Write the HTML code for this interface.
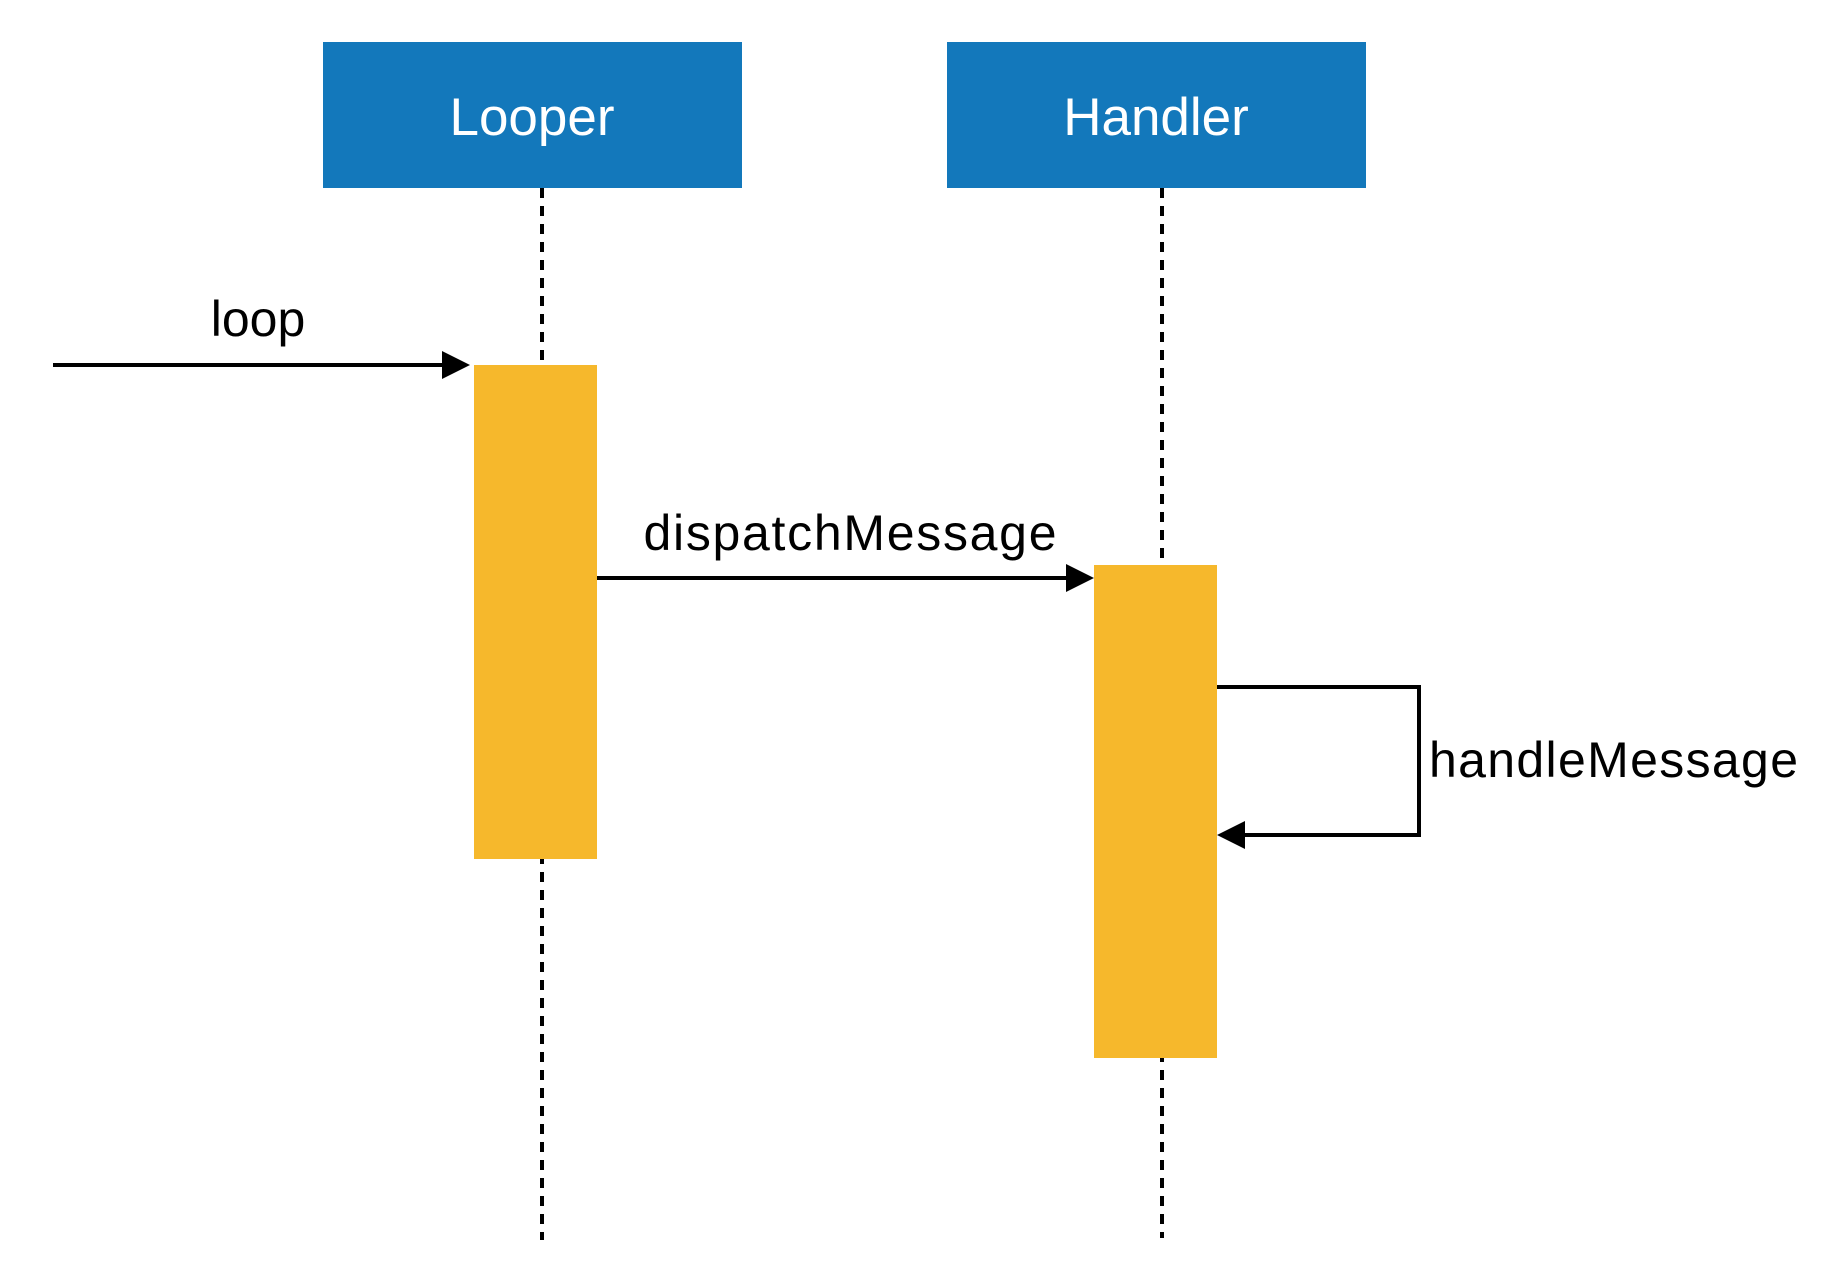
<!DOCTYPE html>
<html><head><style>
body{margin:0;background:#fff;}
svg text{font-family:"Liberation Sans",sans-serif;}
</style></head><body>
<svg width="1840" height="1260" xmlns="http://www.w3.org/2000/svg">
<rect x="323" y="42" width="419" height="146" fill="#1378bb"/>
<rect x="947" y="42" width="419" height="146" fill="#1378bb"/>
<text x="532" y="135" font-size="53" fill="#fff" text-anchor="middle">Looper</text>
<text x="1156" y="135" font-size="53" fill="#fff" text-anchor="middle">Handler</text>
<line x1="542" y1="188" x2="542" y2="1240" stroke="#000" stroke-width="4" stroke-dasharray="10,8"/>
<line x1="1162" y1="188" x2="1162" y2="1238" stroke="#000" stroke-width="4" stroke-dasharray="10,8"/>
<rect x="474" y="365" width="123" height="494" fill="#f6b82c"/>
<rect x="1094" y="565" width="123" height="493" fill="#f6b82c"/>
<line x1="53" y1="365" x2="446" y2="365" stroke="#000" stroke-width="4"/>
<polygon points="442,351 470,365 442,379" fill="#000"/>
<text x="258" y="336" font-size="50" text-anchor="middle">loop</text>
<line x1="597" y1="578" x2="1070" y2="578" stroke="#000" stroke-width="4"/>
<polygon points="1066,564 1094,578 1066,592" fill="#000"/>
<text x="850" y="550" font-size="50" text-anchor="middle" textLength="413">dispatchMessage</text>
<polyline points="1217,687 1419,687 1419,835 1241,835" fill="none" stroke="#000" stroke-width="4"/>
<polygon points="1245,821 1217,835 1245,849" fill="#000"/>
<text x="1429" y="777" font-size="50" textLength="369">handleMessage</text>
</svg>
</body></html>
